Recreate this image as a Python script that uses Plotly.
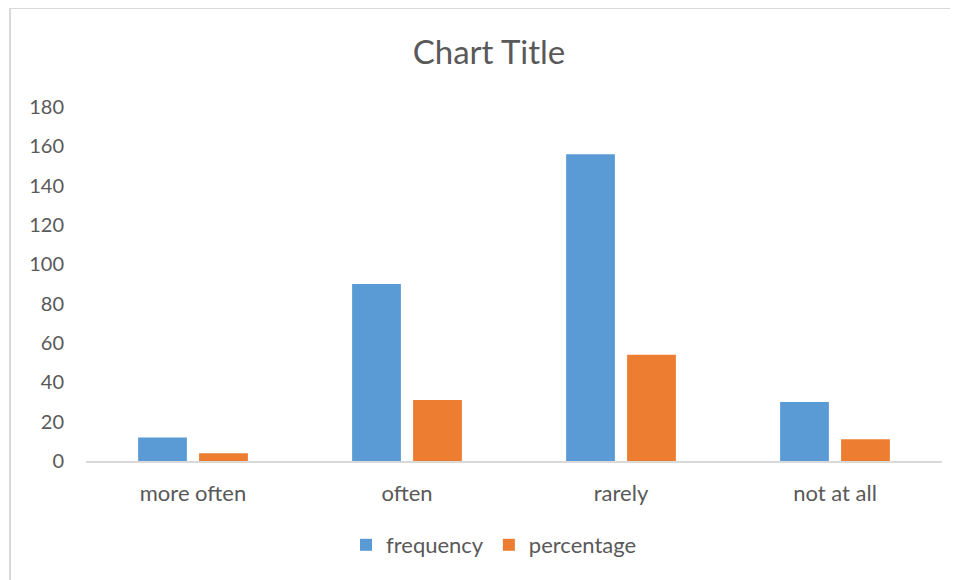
import plotly.graph_objects as go

categories = ["more often", "often", "rarely", "not at all"]
frequency = [12, 90, 156, 30]
percentage = [4, 31, 54, 11]
y_ticks = [0, 20, 40, 60, 80, 100, 120, 140, 160, 180]

BLUE = "#5B9BD5"
ORANGE = "#ED7D31"
TEXT = "#595959"
FONT = "Lato"

fig = go.Figure()
fig.add_trace(go.Bar(name="frequency", x=categories, y=frequency,
                     marker=dict(color=BLUE, line=dict(width=0))))
fig.add_trace(go.Bar(name="percentage", x=categories, y=percentage,
                     marker=dict(color=ORANGE, line=dict(width=0))))

OFF = 8  # page body margin
W, H = 958, 580
L, T = 86 - OFF, 107 - OFF
R = W - (942 - OFF)
B = H - (461 - OFF)
pw, ph = W - L - R, H - T - B

def px_x(p):
    return (p - OFF - L) / pw

def px_y(p):
    return (H - B - (p - OFF)) / ph

fig.update_layout(
    width=W, height=H,
    margin=dict(l=L, r=R, t=T, b=B, pad=0),
    paper_bgcolor="white", plot_bgcolor="white",
    barmode="group", bargap=0.43, bargroupgap=0.2,
    font=dict(family=FONT, color=TEXT, size=20),
    title=dict(text="Chart Title", x=px_x(489), xanchor="center",
               y=1 - (52 - OFF) / H, yanchor="middle", xref="paper", yref="container",
               font=dict(family=FONT, size=33, color=TEXT)),
    showlegend=True,
    legend=dict(orientation="h", x=px_x(494), xanchor="center",
                y=px_y(545), yanchor="middle",
                font=dict(family=FONT, size=22, color=TEXT),
                bgcolor="rgba(0,0,0,0)"),
    xaxis=dict(showline=True, linecolor="#d9d9d9", linewidth=1.5,
               showgrid=False, ticks="outside", ticklen=12, tickcolor="rgba(0,0,0,0)",
               tickfont=dict(family=FONT, size=22, color=TEXT), zeroline=False),
    yaxis=dict(range=[0, 180], tickvals=y_ticks, showgrid=False, showline=False,
               zeroline=False, ticks="outside", ticklen=17, tickcolor="rgba(0,0,0,0)",
               tickfont=dict(family=FONT, size=20, color=TEXT)),
    shapes=[
        dict(type="line", xref="paper", yref="paper",
             x0=px_x(10), x1=px_x(10), y0=px_y(8), y1=px_y(640),
             line=dict(color="#d9d9d9", width=2)),
        dict(type="line", xref="paper", yref="paper",
             x0=px_x(10), x1=px_x(1040), y0=px_y(8), y1=px_y(8),
             line=dict(color="#d9d9d9", width=2)),
    ],
)

fig.write_html("out.html")
